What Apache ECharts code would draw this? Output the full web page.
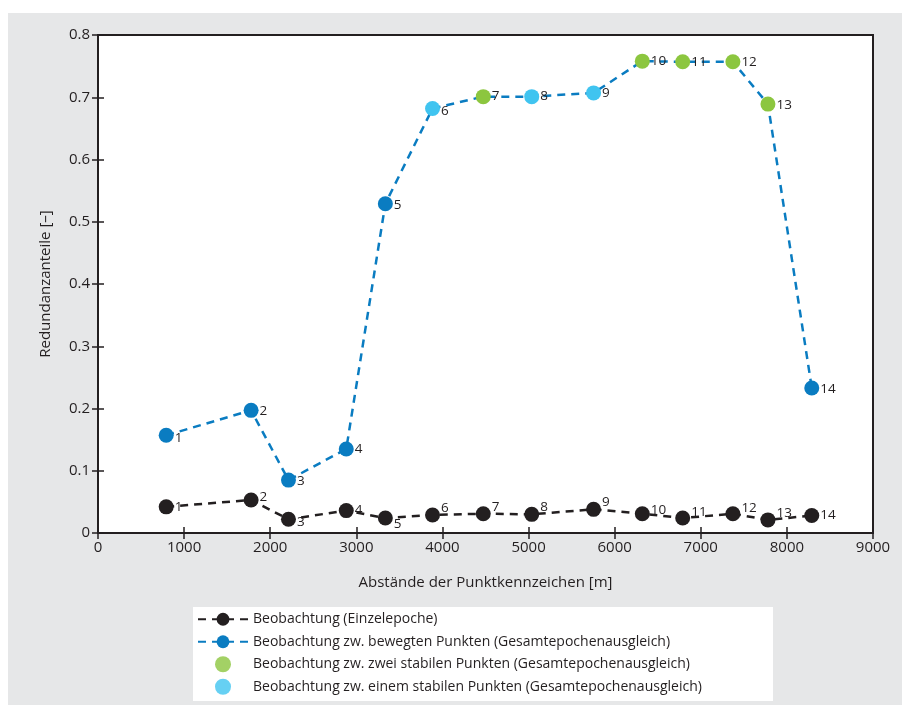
<!DOCTYPE html>
<html><head><meta charset="utf-8">
<script src="https://cdn.jsdelivr.net/npm/echarts@6/dist/echarts.min.js"></script>
<style>
html,body{margin:0;padding:0;background:#fff;}
#wrap{position:relative;width:902px;height:705px;}
#gray{position:absolute;left:8px;top:13px;right:0;bottom:0;background:#e6e7e8;}
#legbox{position:absolute;left:193px;top:607px;width:580px;height:94px;background:#fff;}
#chart{position:absolute;left:0;top:0;width:902px;height:705px;}
</style></head>
<body><div id="wrap"><div id="gray"></div><div id="legbox"></div><div id="chart"></div></div>
<script>
// Data
const pointIds = [1,2,3,4,5,6,7,8,9,10,11,12,13,14];
const singleX = [792,1778,2212,2883,3337,3885,4474,5037,5755,6321,6790,7373,7780,8289];
const singleY = [0.042,0.053,0.022,0.036,0.024,0.029,0.031,0.030,0.038,0.031,0.024,0.031,0.021,0.028];
const totalX = [792,1778,2212,2883,3337,3885,4474,5037,5755,6321,6790,7373,7780,8289];
const totalY = [0.157,0.197,0.085,0.135,0.529,0.682,0.701,0.701,0.707,0.758,0.757,0.757,0.689,0.233];
// group of each point in the Gesamtepochenausgleich: 'moving', 'twoStable', 'oneStable'
const totalGroup = ['moving','moving','moving','moving','moving','oneStable','twoStable','oneStable','oneStable','twoStable','twoStable','twoStable','twoStable','moving'];
const legendNames = [
  'Beobachtung (Einzelepoche)',
  'Beobachtung zw. bewegten Punkten (Gesamtepochenausgleich)',
  'Beobachtung zw. zwei stabilen Punkten (Gesamtepochenausgleich)',
  'Beobachtung zw. einem stabilen Punkten (Gesamtepochenausgleich)'
];
// label vertical nudges (style)
const singleLabelDy = [0,-3,3,0,6,-7,-7,-7,-7,-4,-6,-6,-7,0];
const totalLabelDy = [3,1,1,0,1,3,0,0,0,0,0,0,1,1];

const C_TEXT = '#231f20';
const C_MOVING = '#0a7cc1';
const C_TWO = '#8cc63f';
const C_ONE = '#40c4f0';
const groupColor = {moving: C_MOVING, twoStable: C_TWO, oneStable: C_ONE};
const FONT = 'Open Sans';

const chart = echarts.init(document.getElementById('chart'), null, {renderer:'canvas'});

const axisCommon = {
  type: 'value',
  axisLine: {show: true, lineStyle: {color: C_TEXT, width: 2}},
  axisTick: {show: true, inside: true, length: 6, lineStyle: {color: C_TEXT, width: 1.5}},
  splitLine: {show: false},
};

const labelBase = {show: true, position: 'right', distance: 1, color: C_TEXT, fontSize: 13.5, fontFamily: FONT};

chart.setOption({
  backgroundColor: 'transparent',
  animation: false,
  textStyle: {fontFamily: FONT, color: C_TEXT},
  grid: {left: 98, right: 29, top: 35, bottom: 172, show: true, backgroundColor: '#ffffff', borderColor: C_TEXT, borderWidth: 2},
  xAxis: [
    Object.assign({}, axisCommon, {
      min: 0, max: 9000, interval: 1000, position: 'bottom',
      axisLabel: {show: true, color: C_TEXT, fontSize: 15, fontFamily: FONT, margin: 7, formatter: v => String(v)},
      name: 'Abstände der Punktkennzeichen [m]', nameLocation: 'middle', nameGap: 42,
      nameTextStyle: {color: C_TEXT, fontSize: 15, fontFamily: FONT}
    }),
    Object.assign({}, axisCommon, {
      min: 0, max: 9000, interval: 1000, position: 'top', axisLabel: {show: false}
    })
  ],
  yAxis: [
    Object.assign({}, axisCommon, {
      min: 0, max: 0.8, interval: 0.1, position: 'left',
      axisLabel: {show: true, color: C_TEXT, fontSize: 15, fontFamily: FONT, margin: 8},
      name: 'Redundanzanteile [–]', nameLocation: 'middle', nameGap: 45, nameRotate: 90,
      nameTextStyle: {color: C_TEXT, fontSize: 15, fontFamily: FONT}
    }),
    Object.assign({}, axisCommon, {
      min: 0, max: 0.8, interval: 0.1, position: 'right', axisLabel: {show: false}
    })
  ],
  legend: {
    orient: 'vertical', left: 193, top: 608, padding: [0, 0, 0, 4],
    itemWidth: 50, itemHeight: 16, itemGap: 0,
    textStyle: {color: C_TEXT, fontSize: 14, fontFamily: FONT, lineHeight: 22.5, height: 22.5},
    data: legendNames.map(n => ({name: n}))
  },
  series: [
    {
      name: legendNames[0], type: 'line',
      symbol: 'circle', symbolSize: 15,
      itemStyle: {color: C_TEXT},
      lineStyle: {color: C_TEXT, width: 2.5, type: [8, 6]},
      label: Object.assign({}, labelBase),
      data: singleX.map((x, i) => ({value: [x, singleY[i]], label: {offset: [0, singleLabelDy[i]], formatter: String(pointIds[i])}})),
      z: 3
    },
    {
      name: legendNames[1], type: 'line',
      symbol: 'circle', symbolSize: 15,
      itemStyle: {color: C_MOVING},
      lineStyle: {color: C_MOVING, width: 2.5, type: [8, 6]},
      label: Object.assign({}, labelBase),
      data: totalX.map((x, i) => ({value: [x, totalY[i]], itemStyle: {color: groupColor[totalGroup[i]]}, label: {offset: [0, totalLabelDy[i]], formatter: String(pointIds[i])}})),
      z: 4
    },
    {name: legendNames[2], type: 'scatter', symbol: 'circle', symbolSize: 15, itemStyle: {color: C_TWO}, data: []},
    {name: legendNames[3], type: 'scatter', symbol: 'circle', symbolSize: 15, itemStyle: {color: C_ONE}, data: []}
  ]
});
</script></body></html>
